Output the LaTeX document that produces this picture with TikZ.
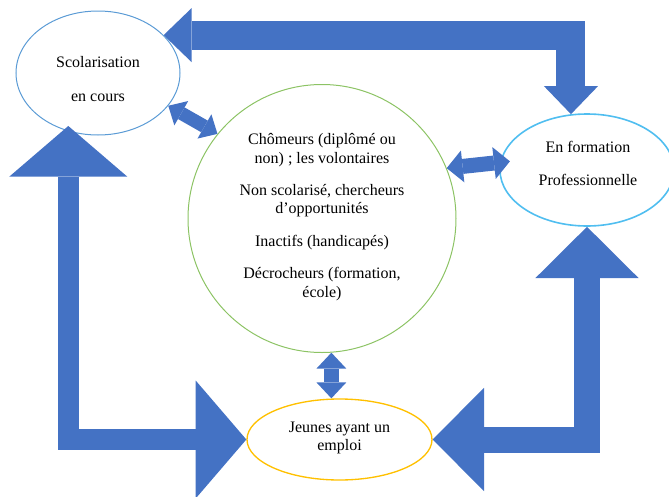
\documentclass[tikz,border=0pt]{standalone}
\usepackage{fontspec}
\setmainfont{Liberation Serif}
\usetikzlibrary{arrows.meta,shapes.geometric}
\definecolor{fleche}{RGB}{68,114,196}
\definecolor{bleuscol}{RGB}{91,155,213}
\definecolor{cyanform}{RGB}{80,190,240}
\definecolor{vertpub}{RGB}{140,195,100}
\definecolor{jaune}{RGB}{255,192,0}
\tikzset{
  bulle/.style={ellipse,draw=#1,inner sep=0pt},
  texte/.style={align=center,inner sep=0pt,font=\fontsize{12}{13.8}\selectfont},
  bloc/.style={draw=fleche,line width=#1,line join=miter},
  pointes/.style n args={2}{arrows={{Triangle[length=#1,width=#2,line width=0pt]}-{Triangle[length=#1,width=#2,line width=0pt]}}}
}
\begin{document}
\begin{tikzpicture}[x=0.75pt,y=-0.75pt]
\useasboundingbox (0,0) rectangle (669,497);
% les quatre bulles
\node[bulle=bleuscol,line width=0.75pt,minimum width=123pt,minimum height=93pt] (scol) at (98,73) {};
\node[bulle=cyanform,line width=1.2pt,minimum width=130.5pt,minimum height=84pt] (form) at (587,170) {};
\node[bulle=vertpub,circle,line width=0.75pt,minimum size=201pt] (pub) at (322,218.5) {};
\node[bulle=jaune,line width=1pt,minimum width=138.75pt,minimum height=60.75pt] (emploi) at (339.5,439.5) {};
\node[texte] (scoltxt) at (98,79) {Scolarisation\\[11pt]en cours};
\node[texte] (formtxt) at (588,163.5) {En formation\\[11pt]Professionnelle};
\node[texte] (pubtxt) at (322,217) {Chômeurs (diplômé ou\\non) ; les volontaires\\[10.5pt]Non scolarisé,  chercheurs\\d’opportunités\\[10.5pt]Inactifs (handicapés)\\[10.5pt]Décrocheurs (formation,\\école)};
\node[texte] (emploitxt) at (339.5,438) {Jeunes ayant un\\emploi};
% grandes fleches
\draw[bloc=21.75pt,pointes={21pt}{40.5pt}] (form.106) |- (scol.30);
\draw[bloc=15.75pt,pointes={38pt}{88.5pt},shorten <=-4pt] (scol.243) |- (emploi.west);
\draw[bloc=19.5pt,pointes={38.5pt}{77.5pt}] (form.south) |- (emploi.east);
% petites fleches
\draw[bloc=10pt,pointes={11.25pt}{21pt}] (scol.-25) -- (pub.141);
\draw[bloc=11.25pt,pointes={12pt}{24pt},shorten >=-7.5pt] (pub.22) -- (form.175);
\draw[bloc=11.25pt,pointes={12pt}{22.5pt}] (pub.-86) -- (pub.-86 |- emploi.north);
\end{tikzpicture}
\end{document}
